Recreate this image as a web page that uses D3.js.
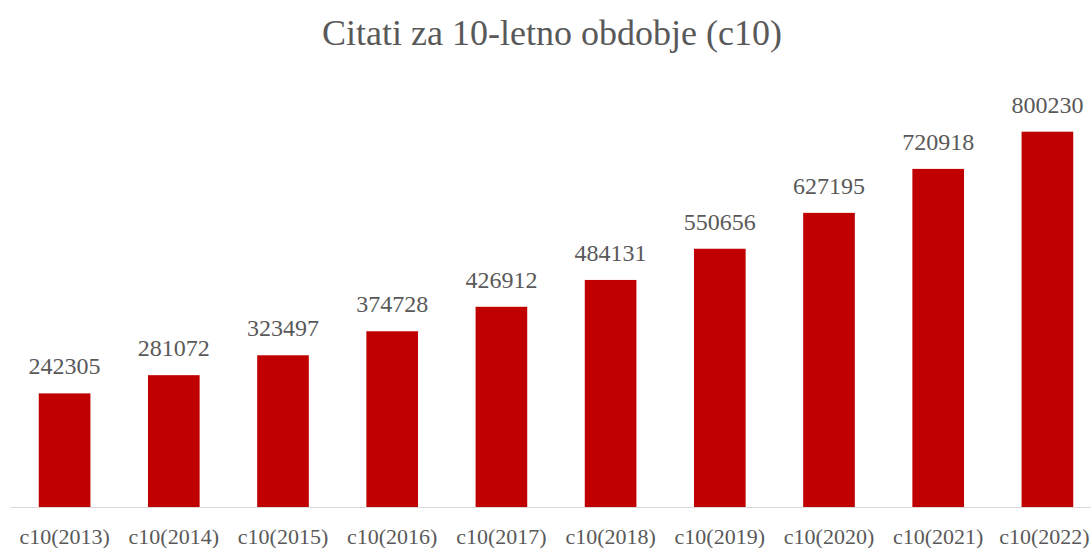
<!DOCTYPE html>
<html>
<head>
<meta charset="utf-8">
<script src="https://cdn.jsdelivr.net/npm/d3@7"></script>
<style>
  body { margin: 0; background: #fff; }
</style>
</head>
<body>
<svg width="1091" height="548"></svg>
<script>
var years = ["2013", "2014", "2015", "2016", "2017", "2018", "2019", "2020", "2021", "2022"];
var categories = years.map(function(y) { return "c10(" + y + ")"; });
var values = [242305, 281072, 323497, 374728, 426912, 484131, 550656, 627195, 720918, 800230];
var title = "Citati za 10-letno obdobje (c10)";

var data = categories.map(function(c, i) { return {name: c, value: values[i]}; });

var font = "'Liberation Serif'";
var grey = "#595959";

var svg = d3.select("svg"),
    margin = {top: 0, left: 10, right: -11, bottom: 41},
    width = +svg.attr("width"),
    height = +svg.attr("height");

var x = d3.scaleBand()
    .domain(categories)
    .range([margin.left, width - margin.right])
    .paddingInner(0.527)
    .paddingOuter(0.2635);

// baseline 507, tallest bar top ~132
var y = d3.scaleLinear()
    .domain([0, 800230])
    .range([507, 131.7]);

// title
svg.append("text")
    .attr("x", 552)
    .attr("y", 45)
    .attr("text-anchor", "middle")
    .style("font-family", font)
    .style("fill", grey)
    .style("font-size", "36px")
    .text(title);

// baseline
svg.append("line")
    .attr("x1", margin.left)
    .attr("x2", width)
    .attr("y1", y(0) + 0.5)
    .attr("y2", y(0) + 0.5)
    .attr("stroke", "#d9d9d9")
    .attr("stroke-width", 1);

// bars
svg.selectAll(".bar")
    .data(data)
    .enter()
    .append("rect")
    .attr("class", "bar")
    .attr("x", function(d) { return x(d.name); })
    .attr("width", x.bandwidth())
    .attr("y", function(d) { return y(d.value); })
    .attr("height", function(d) { return y(0) - y(d.value); })
    .style("fill", "#c00000");

// value labels
svg.selectAll(".val")
    .data(data)
    .enter()
    .append("text")
    .attr("class", "val")
    .attr("x", function(d) { return x(d.name) + x.bandwidth() / 2; })
    .attr("y", function(d) { return y(d.value) - 19; })
    .attr("text-anchor", "middle")
    .style("font-family", font)
    .style("fill", grey)
    .style("font-size", "24px")
    .text(function(d) { return d.value; });

// x axis labels
var xAxis = d3.axisBottom(x).tickSize(0).tickPadding(0);
var gx = svg.append("g")
    .attr("transform", "translate(0," + y(0) + ")")
    .call(xAxis);
gx.select(".domain").remove();
gx.selectAll("text")
    .attr("dy", null)
    .attr("y", 37)
    .style("font-family", font)
    .style("fill", grey)
    .style("font-size", "22px");
// keep the last label inside the edge
gx.selectAll("text").filter(function(d, i) { return i == categories.length - 1; })
    .attr("x", -3);
</script>
</body>
</html>
